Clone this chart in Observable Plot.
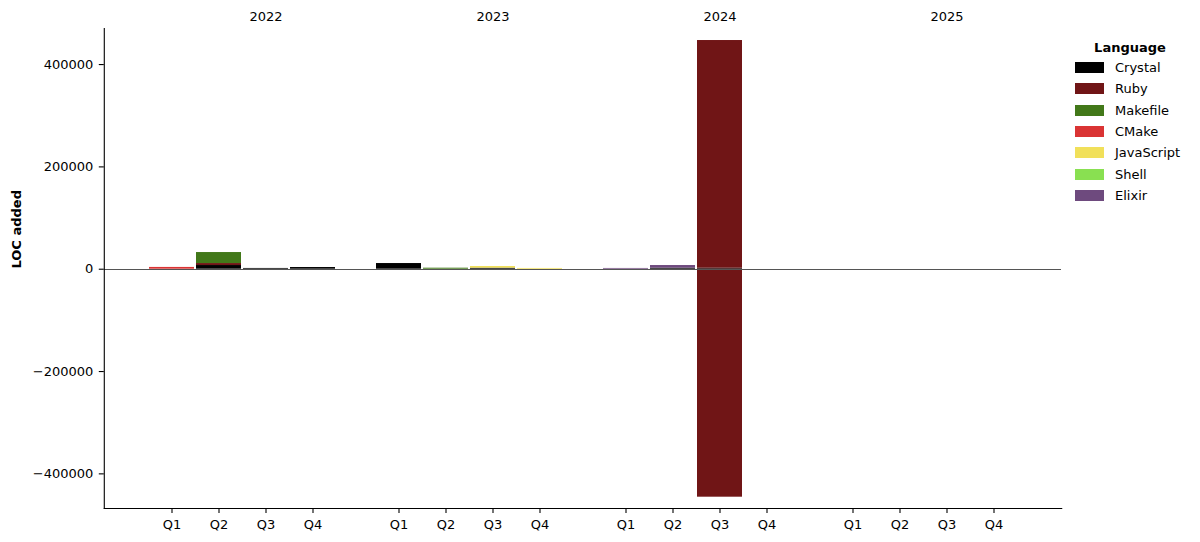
<!DOCTYPE html>
<html><head><meta charset="utf-8">
<script src="https://cdn.jsdelivr.net/npm/d3@7"></script>
<script src="https://cdn.jsdelivr.net/npm/@observablehq/plot@0.6"></script>
<style>
body{margin:0;background:#fff;font-family:"DejaVu Sans",sans-serif;}
#wrap{position:relative;width:1200px;height:542px;}
.legend{position:absolute;left:1075px;top:38px;width:110px;font-size:13px;color:#000;font-family:"DejaVu Sans",sans-serif;}
.legend .title{font-weight:bold;text-align:center;height:19px;line-height:19px;}
.legend .row{display:flex;align-items:center;height:21.3px;white-space:nowrap;}
.legend .row:first-of-type{margin-top:1px;}
.legend .sw{width:29px;height:11px;margin-right:11px;flex:none;}
</style></head><body><div id="wrap"></div>
<script>
const years = ["2022", "2023", "2024", "2025"];
const quarters = ["Q1", "Q2", "Q3", "Q4"];
const languages = ["Crystal", "Ruby", "Makefile", "CMake", "JavaScript", "Shell", "Elixir"];
const colors = ["#000000", "#701516", "#427819", "#da3434", "#f1e05a", "#89e051", "#6e4a7e"];
const yTicks = [-400000, -200000, 0, 200000, 400000];
const yDomain = [-467700, 470500];

// LOC added per language, one value per (year, quarter), year-major order
const crystal     = [0, 7200, 1500, 3300,   11100, 0, 2000, 0,   0, 2000, 2000, 0,   0, 0, 0, 0];
const ruby        = [0, 3900, 0, 0,         0, 0, 0, 0,          0, 0, 445000, 0,    0, 0, 0, 0];
const rubyRemoved = [0, 0, 0, 0,            0, 0, 0, 0,          0, 0, -445600, 0,   0, 0, 0, 0];
const makefile    = [0, 21500, 0, 0,        0, 2000, 0, 0,       0, 0, 0, 0,         0, 0, 0, 0];
const cmake       = [3500, 0, 0, 0,         0, 0, 0, 0,          0, 0, 0, 0,         0, 0, 0, 0];
const javascript  = [0, 0, 0, 0,            0, 0, 3300, 1500,    0, 0, 0, 0,         0, 0, 0, 0];
const shell       = [0, 0, 0, 0,            0, 0, 0, 0,          0, 0, 0, 0,         0, 0, 0, 0];
const elixir      = [0, 0, 0, 0,            0, 0, 0, 0,          1500, 5200, 0, 0,   0, 0, 0, 0];

const series = [
  ["Crystal", crystal], ["Ruby", ruby], ["Ruby", rubyRemoved], ["Makefile", makefile],
  ["CMake", cmake], ["JavaScript", javascript], ["Shell", shell], ["Elixir", elixir]
];
const rows = [];
for (const [language, values] of series) {
  values.forEach((value, i) => rows.push({
    year: years[Math.floor(i / quarters.length)],
    quarter: quarters[i % quarters.length],
    language, value
  }));
}
const yearLabels = years.map(year => ({year, quarter: quarters[2]}));

const marginLeft = 103, marginRight = 138;
const fxPadInner = 0.163, fxPadOuter = 0.19;
const fxStep = (1200 - marginLeft - marginRight) / (years.length - fxPadInner + 2 * fxPadOuter);
const off = fxPadOuter * fxStep;

const chart = Plot.plot({
  width: 1200, height: 542,
  marginLeft, marginRight, marginTop: 28, marginBottom: 34,
  style: {fontFamily: "DejaVu Sans", fontSize: "13px", background: "#fff", color: "#000"},
  fx: {domain: years, paddingInner: fxPadInner, paddingOuter: fxPadOuter, axis: null},
  x: {domain: quarters, paddingInner: 0.04, paddingOuter: 0.02},
  y: {domain: yDomain},
  color: {domain: languages, range: colors},
  marks: [
    Plot.barY(rows.filter(d => d.value !== 0), {fx: "year", x: "quarter", y: "value", fill: "language", order: languages}),
    Plot.ruleY([0], {stroke: "#555", strokeWidth: 1, insetLeft: -off, insetRight: -off, shapeRendering: "crispEdges"}),
    Plot.frame({facet: "super", anchor: "left", stroke: "#000", strokeWidth: 1.1, insetLeft: -off}),
    Plot.frame({facet: "super", anchor: "bottom", stroke: "#000", strokeWidth: 1.1, insetLeft: -off, insetRight: -off}),
    Plot.axisX({tickSize: 5, tickPadding: 6, label: null, stroke: "#000", strokeWidth: 1.1}),
    Plot.axisY({ticks: yTicks, tickFormat: d3.format("d"), tickSize: 5, tickPadding: 6, dx: -off, label: null, stroke: "#000", strokeWidth: 1.1}),
    Plot.text(["LOC added"], {facet: "super", frameAnchor: "left", rotate: -90, dx: -87 - off, fontWeight: "bold", text: d => d}),
    Plot.text(yearLabels, {fx: "year", x: "quarter", frameAnchor: "top", lineAnchor: "middle", dy: -12, text: "year"})
  ]
});
const wrap = document.getElementById("wrap");
wrap.appendChild(chart);

const cs = chart.scale("color");
const legend = document.createElement("div");
legend.className = "legend";
const title = document.createElement("div");
title.className = "title";
title.textContent = "Language";
legend.appendChild(title);
cs.domain.forEach((name, i) => {
  const row = document.createElement("div");
  row.className = "row";
  const sw = document.createElement("span");
  sw.className = "sw";
  sw.style.background = cs.range[i];
  const label = document.createElement("span");
  label.textContent = name;
  row.appendChild(sw); row.appendChild(label);
  legend.appendChild(row);
});
wrap.appendChild(legend);
</script></body></html>
